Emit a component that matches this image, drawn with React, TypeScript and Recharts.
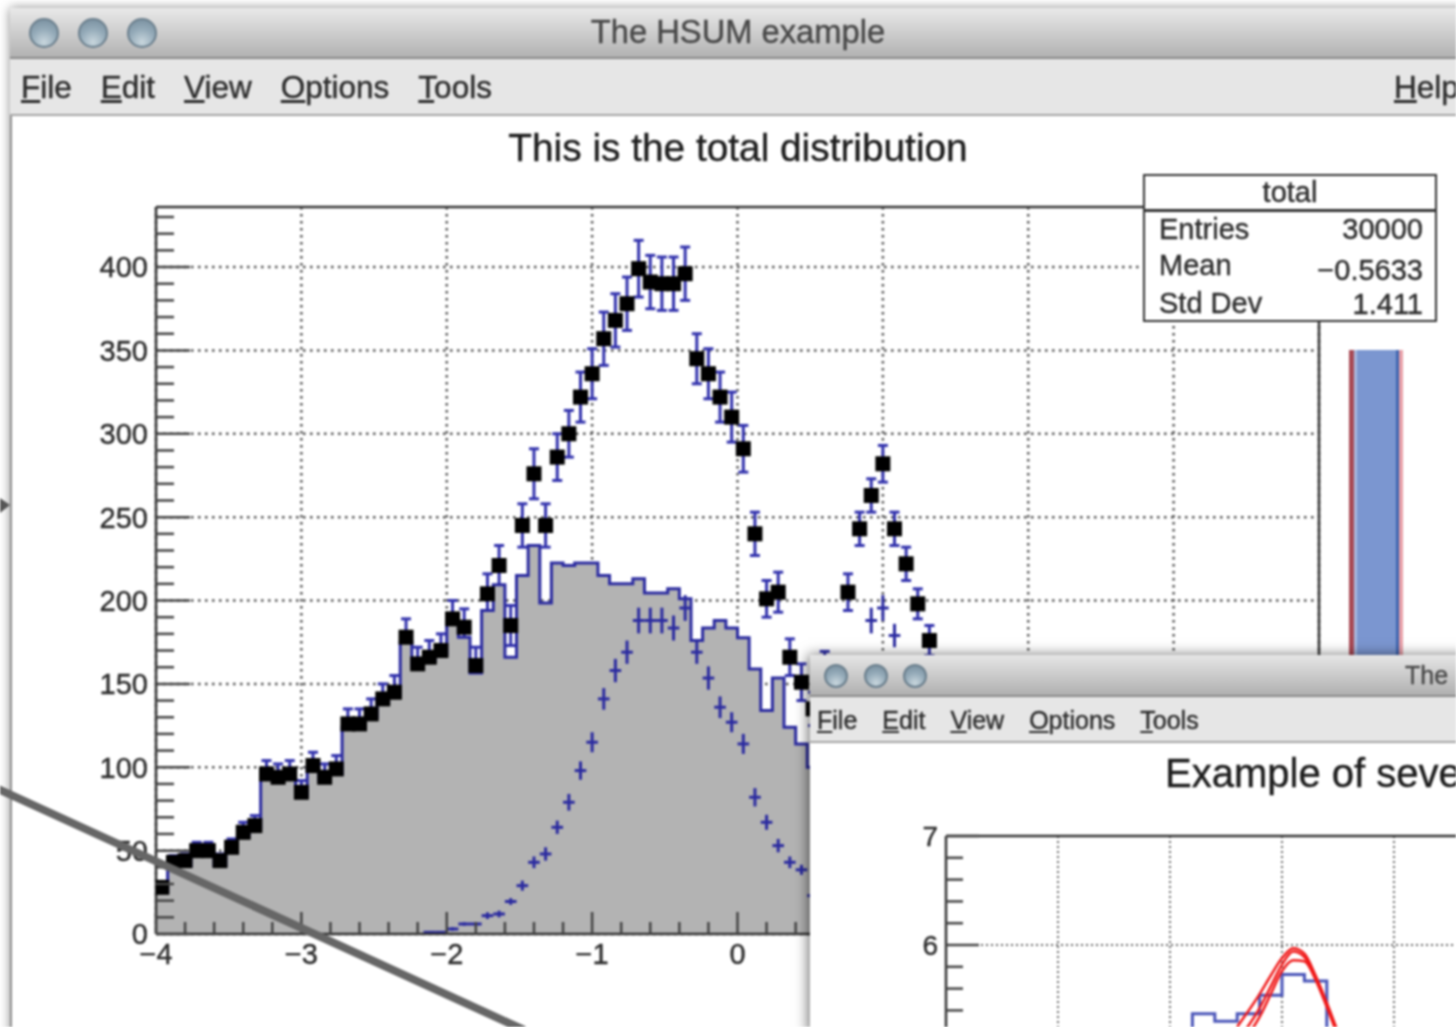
import React from 'react';
import {
  Area,
  CartesianGrid,
  ComposedChart,
  ErrorBar,
  Line,
  ReferenceLine,
  Scatter,
  XAxis,
  YAxis,
} from 'recharts';

// bin edges of the main histogram (only the part that shows before the second window)
const binEdges = [
  -4, -3.92, -3.84, -3.76, -3.68, -3.6, -3.52, -3.44, -3.36, -3.28, -3.2, -3.12, -3.04, -2.96, -2.88, -2.8, -2.72,
  -2.64, -2.56, -2.48, -2.4, -2.32, -2.24, -2.16, -2.08, -2, -1.92, -1.84, -1.76, -1.68, -1.6, -1.52, -1.44, -1.36,
  -1.28, -1.2, -1.12, -1.04, -0.96, -0.88, -0.8, -0.72, -0.64, -0.56, -0.48, -0.4, -0.32, -0.24, -0.16, -0.08, 0,
  0.08, 0.16, 0.24, 0.32, 0.4, 0.48, 0.56, 0.64, 0.72, 0.8, 0.88, 0.96, 1.04, 1.12, 1.2, 1.28, 1.36,
];
const grayValues = [
  25, 40, 41, 47, 47, 41, 50, 59, 63.5, 94, 93, 94, 83, 99.6, 92, 96, 124, 124, 130, 139, 143, 175, 160, 164, 168,
  186.5, 178, 156.5, 194, 209.5, 166, 215, 233, 198.5, 222.5, 221, 222.5, 222.5, 215, 210, 210, 213, 204.5, 204.5,
  207, 201, 176, 183.5, 188, 183.5, 177.7, 159, 134, 153.5, 124, 114, 100, 90, 100, 110, 105, 90, 95, 80, 70, 60, 50,
];
const totalValues = [
  28, 43, 44, 50, 50, 44, 52, 61, 65, 96, 94, 96, 85, 101, 94, 99, 126, 126, 132, 141, 145, 178, 162, 166, 170, 189,
  184, 161, 204, 221, 185, 245, 276, 245, 286, 300, 322, 336, 357, 368, 378, 399, 391, 390, 390, 396, 345, 336, 322,
  310, 291, 240, 201, 205, 166, 151, 135, 157, 150, 205, 243, 263, 282, 243, 222, 198, 176,
];
const totalErrors = [
  3, 4, 4, 5, 5, 4, 5, 6, 6, 8, 8, 8, 7, 8, 8, 8, 9, 9, 9, 9, 10, 11, 10, 10, 10, 11, 11, 11, 12, 12, 12, 13, 15, 13,
  14, 14, 15, 15, 16, 16, 16, 17, 16, 16, 16, 16, 15, 15, 15, 15, 14, 13, 11, 12, 11, 11, 10, 12.5, 10, 11, 10, 10,
  11, 10, 10, 9, 9,
];
const crossValues = [
  null, null, null, null, null, null, null, null, null, null, null, null, null, null, null, null, null, null, null,
  null, null, null, null, 1, 1, 3, 6, 6, 11, 12, 19.5, 29, 43, 48, 64, 79, 98, 115, 141, 158, 169, 188, 188, 188,
  183.5, 195.5, 169, 153.5, 136, 127, 114, 82, 67, 53, 43, 38.5, 23, null, null, 120, 150, 188, 195.5, 179, 150, 120,
  100,
];
const crossErrors = [
  0, 0, 0, 0, 0, 0, 0, 0, 0, 0, 0, 0, 0, 0, 0, 0, 0, 0, 0, 0, 0, 0, 0, 0.5, 0.5, 1, 1, 1, 2, 2, 2, 3, 3.5, 4, 4, 5,
  5.5, 6, 6.5, 7, 7, 7.7, 7.7, 7.7, 7.5, 7.7, 7, 7, 6.5, 6, 6, 5.5, 4.5, 4, 3.5, 3, 2.5, 0, 0, 6, 7, 7.7, 7.7, 7, 7,
  6, 6,
];

const majorY = [0, 50, 100, 150, 200, 250, 300, 350, 400];
const minorY = [
  10, 20, 30, 40, 60, 70, 80, 90, 110, 120, 130, 140, 160, 170, 180, 190, 210, 220, 230, 240, 260, 270, 280, 290, 310,
  320, 330, 340, 360, 370, 380, 390, 410, 420, 430,
];
const majorX = [-4, -3, -2, -1, 0, 1, 2, 3, 4];
const minorX = [
  -3.8, -3.6, -3.4, -3.2, -2.8, -2.6, -2.4, -2.2, -1.8, -1.6, -1.4, -1.2, -0.8, -0.6, -0.4, -0.2, 0.2, 0.4, 0.6, 0.8,
  1.2, 1.4, 1.6, 1.8, 2.2, 2.4, 2.6, 2.8, 3.2, 3.4, 3.6, 3.8,
];

// second window, fit example
const fitEdges = [2, 2.2, 2.4, 2.6, 2.8, 3, 3.2, 3.4];
const fitHist = [4.6, 5.37, 5.3, 5.37, 5.54, 5.73, 5.67, 4.5];
const fitX = [2.6, 2.8, 2.9, 3, 3.1, 3.2, 3.3, 3.4, 3.5];
const fitCurveA = [5.25, 5.55, 5.72, 5.88, 5.97, 5.92, 5.72, 5.47, 5.2];
const fitCurveB = [5.12, 5.42, 5.62, 5.82, 5.94, 5.89, 5.7, 5.45, 5.18];
const fitCurveC = [5.05, 5.34, 5.55, 5.76, 5.86, 5.85, 5.68, 5.43, 5.16];
const fitMajorY = [6, 7];
const fitMinorY = [5.2, 5.4, 5.6, 5.8, 6.2, 6.4, 6.6, 6.8];

const menuItems = ['File', 'Edit', 'View', 'Options', 'Tools'];
const statLabels = ['Entries', 'Mean', 'Std Dev'];
const statValues = ['30000', '\u22120.5633', '1.411'];

const histRows = binEdges.map((x, i) => ({ x, gray: grayValues[Math.min(i, grayValues.length - 1)] }));
const pointRows = totalValues.map((total, i) => ({
  x: binEdges[i] + 0.04,
  total,
  err: totalErrors[i],
  cross: crossValues[i],
  crossErr: crossErrors[i],
  halfBin: 0.04,
}));
const crossRows = pointRows.filter((r) => r.cross !== null);
const fitHistRows = fitEdges.map((x, i) => ({ x, v: fitHist[i] }));
const fitCurveRows = fitX.map((x, i) => ({ x, a: fitCurveA[i], b: fitCurveB[i], c: fitCurveC[i] }));

const FONT = '"Liberation Sans", Arial, sans-serif';
const INK = '#2c2c2c';
const BLUE = '#2b2ba0';

function minus(v: number) {
  return v < 0 ? `\u2212${Math.abs(v)}` : String(v);
}

function YTick({ x, y, payload, major, size, longLen, shortLen }: any) {
  const isMajor = major.includes(payload.value);
  return (
    <g>
      <line x1={x} x2={x + (isMajor ? longLen : shortLen)} y1={y} y2={y} stroke="#444" strokeWidth={2.5} />
      {isMajor && (
        <text
          x={x - 8}
          y={y + size * 0.36}
          textAnchor="end"
          fontSize={size}
          fontFamily={FONT}
          fill={INK}
          stroke={INK}
          strokeWidth={0.4}
        >
          {payload.value}
        </text>
      )}
    </g>
  );
}

function XTick({ x, y, payload }: any) {
  const isMajor = majorX.includes(payload.value);
  return (
    <g>
      <line x1={x} x2={x} y1={y} y2={y - (isMajor ? 22 : 12)} stroke="#444" strokeWidth={2.5} />
      {isMajor && (
        <text
          x={x}
          y={y + 30}
          textAnchor="middle"
          fontSize={29}
          fontFamily={FONT}
          fill={INK}
          stroke={INK}
          strokeWidth={0.4}
        >
          {minus(payload.value)}
        </text>
      )}
    </g>
  );
}

function SquareMark({ cx, cy }: any) {
  return <rect x={cx - 7.5} y={cy - 7.5} width={15} height={15} fill="#000" />;
}

function NoMark() {
  return <g />;
}

function TrafficLight({ x, y, r }: { x: number; y: number; r: number }) {
  return (
    <div
      style={{
        position: 'absolute',
        left: x - r,
        top: y - r,
        width: r * 2,
        height: r * 2,
        borderRadius: '50%',
        boxSizing: 'border-box',
        border: '2px solid #6b7f8d',
        background: 'radial-gradient(circle at 50% 85%, #c8d6dd 0%, #95abb9 50%, #748b9b 100%)',
      }}
    />
  );
}

function Menu({ left, top, size, gap }: { left: number; top: number; size: number; gap: number }) {
  return (
    <div
      style={{
        position: 'absolute',
        left,
        top,
        display: 'flex',
        gap,
        fontFamily: FONT,
        fontSize: size,
        color: INK,
        lineHeight: 1,
        whiteSpace: 'nowrap',
      }}
    >
      {menuItems.map((m) => (
        <span key={m}>
          <u>{m[0]}</u>
          {m.slice(1)}
        </span>
      ))}
    </div>
  );
}

function MainChart() {
  return (
    <div style={{ position: 'absolute', left: 40, top: 187 }}>
      <ComposedChart width={1299} height={787} margin={{ top: 20, right: 20, left: 56, bottom: 0 }}>
        <CartesianGrid
          stroke="#555"
          strokeWidth={2.5}
          strokeDasharray="2.5 4.5"
          horizontalValues={majorY}
          verticalValues={majorX}
        />
        <Scatter data={pointRows} dataKey="total" shape={<NoMark />} isAnimationActive={false}>
          {/* the grey fill hides the lower half of these bars */}
          <ErrorBar
            dataKey="err"
            direction="y"
            width={5}
            stroke="#3232ac"
            strokeWidth={3}
            isAnimationActive={false}
            zIndex={50}
          />
        </Scatter>
        <Area
          data={histRows}
          dataKey="gray"
          type="stepAfter"
          fill="#b3b3b3"
          fillOpacity={1}
          stroke={BLUE}
          strokeWidth={3}
          baseValue={0}
          isAnimationActive={false}
        />
        <XAxis
          dataKey="x"
          type="number"
          domain={[-4, 4]}
          ticks={[...majorX, ...minorX].sort((a, b) => a - b)}
          interval={0}
          height={40}
          tickSize={0}
          tickMargin={0}
          tickLine={false}
          stroke="#333"
          strokeWidth={2.5}
          tick={<XTick />}
          allowDataOverflow
        />
        <YAxis
          type="number"
          domain={[0, 436]}
          ticks={[...majorY, ...minorY].sort((a, b) => a - b)}
          interval={0}
          width={60}
          tickSize={0}
          tickMargin={0}
          tickLine={false}
          stroke="#333"
          strokeWidth={2.5}
          tick={<YTick major={majorY} size={29} longLen={34} shortLen={18} />}
          allowDataOverflow
        />
        <ReferenceLine y={436} stroke="#333" strokeWidth={2.5} />
        <ReferenceLine x={4} stroke="#333" strokeWidth={2.5} />
        <Scatter data={crossRows} dataKey="cross" shape={<NoMark />} isAnimationActive={false}>
          <ErrorBar dataKey="crossErr" direction="y" width={0} stroke={BLUE} strokeWidth={3} isAnimationActive={false} />
          <ErrorBar dataKey="halfBin" direction="x" width={0} stroke={BLUE} strokeWidth={3} isAnimationActive={false} />
        </Scatter>
        <Scatter data={pointRows} dataKey="total" shape={<SquareMark />} isAnimationActive={false} />
      </ComposedChart>
    </div>
  );
}

function FitChart() {
  return (
    <div style={{ position: 'absolute', left: 890, top: 816 }}>
      <ComposedChart width={748} height={347} margin={{ top: 20, right: 20, left: 0, bottom: 0 }}>
        <CartesianGrid
          stroke="#666"
          strokeWidth={2}
          strokeDasharray="2 3"
          horizontalValues={[6]}
          verticalValues={[1, 2, 3, 4, 5]}
        />
        <XAxis dataKey="x" type="number" domain={[0, 6]} height={0} hide allowDataOverflow />
        <YAxis
          type="number"
          domain={[4, 7]}
          ticks={[...fitMajorY, ...fitMinorY].sort((a, b) => a - b)}
          interval={0}
          width={56}
          tickSize={0}
          tickMargin={0}
          tickLine={false}
          stroke="#333"
          strokeWidth={2.5}
          tick={<YTick major={fitMajorY} size={28} longLen={33} shortLen={17} />}
          allowDataOverflow
        />
        <ReferenceLine y={7} stroke="#333" strokeWidth={2.5} />
        <Line
          data={fitHistRows}
          dataKey="v"
          type="stepAfter"
          stroke="#4a55b8"
          strokeWidth={3}
          dot={false}
          isAnimationActive={false}
        />
        <Line data={fitCurveRows} dataKey="a" type="monotone" stroke="#f01a1a" strokeWidth={2.5} dot={false} isAnimationActive={false} />
        <Line data={fitCurveRows} dataKey="b" type="monotone" stroke="#f01a1a" strokeWidth={2.5} dot={false} isAnimationActive={false} />
        <Line data={fitCurveRows} dataKey="c" type="monotone" stroke="#f01a1a" strokeWidth={2.5} dot={false} isAnimationActive={false} />
      </ComposedChart>
    </div>
  );
}

function StatsBox() {
  const text: React.CSSProperties = { position: 'absolute', fontSize: 29, lineHeight: 1, whiteSpace: 'nowrap' };
  return (
    <div
      style={{
        position: 'absolute',
        left: 1143,
        top: 174,
        width: 294,
        height: 148,
        boxSizing: 'border-box',
        border: '2.5px solid #333',
        background: '#fff',
        fontFamily: FONT,
        color: INK,
      }}
    >
      <div style={{ ...text, left: 0, right: 0, top: 2, textAlign: 'center' }}>total</div>
      <div style={{ position: 'absolute', left: 0, right: 0, top: 33, height: 2.5, background: '#333' }} />
      {statLabels.map((label, i) => (
        <div key={label} style={{ ...text, left: 14, top: [39, 75, 113][i] }}>
          {label}
        </div>
      ))}
      {statValues.map((value, i) => (
        <div key={value} style={{ ...text, right: 12, top: [39, 80, 114][i] }}>
          {value}
        </div>
      ))}
    </div>
  );
}

export default function App() {
  return (
    <div
      style={{
        position: 'fixed',
        left: 0,
        top: 0,
        width: 1456,
        height: 1027,
        overflow: 'hidden',
        background: '#fff',
        filter: 'blur(0.9px)',
        WebkitTextStroke: '0.4px currentColor',
      }}
    >
      {/* main window */}
      <div
        style={{
          position: 'absolute',
          left: 10,
          top: 8,
          width: 1460,
          height: 1040,
          background: '#fff',
          boxShadow: '0 0 10px rgba(0,0,0,0.45)',
        }}
      />
      <div
        style={{
          position: 'absolute',
          left: 10,
          top: 8,
          width: 1446,
          height: 49,
          background: 'linear-gradient(#e9e9e9, #b2b2b2)',
          borderBottom: '2px solid #8a8a8a',
        }}
      />
      <div
        style={{
          position: 'absolute',
          left: 10,
          top: 59,
          width: 1446,
          height: 55,
          background: '#e6e6e6',
          borderBottom: '2px solid #a5a5a5',
        }}
      />
      <div style={{ position: 'absolute', left: 10, top: 116, width: 2, height: 911, background: '#8f8f8f' }} />
      <TrafficLight x={44} y={33} r={15} />
      <TrafficLight x={93} y={33} r={15} />
      <TrafficLight x={142} y={33} r={15} />
      <div style={{ position: 'absolute', left: 0, width: 1476, top: 16, textAlign: 'center', fontFamily: FONT, fontSize: 32.7, lineHeight: 1, color: '#484848' }}>
        The HSUM example
      </div>
      <Menu left={21} top={72} size={31.5} gap={29} />
      <div style={{ position: 'absolute', left: 1394, top: 72, fontFamily: FONT, fontSize: 31.5, lineHeight: 1, color: INK }}>
        <u>H</u>elp
      </div>
      <div style={{ position: 'absolute', left: 0, width: 1476, top: 129, textAlign: 'center', fontFamily: FONT, fontSize: 38.8, lineHeight: 1, color: '#1c1c1c' }}>
        This is the total distribution
      </div>

      <MainChart />
      <StatsBox />

      {/* colour strip right of the frame */}
      <div
        style={{
          position: 'absolute',
          left: 1349,
          top: 350,
          width: 54,
          height: 320,
          background:
            'linear-gradient(90deg, #a84a55 0 5px, #a9b9de 5px 8px, #7b96d0 8px 47px, #3f66b0 47px 50px, #e8a0a8 50px 54px)',
        }}
      />

      {/* second window */}
      <div
        style={{
          position: 'absolute',
          left: 810,
          top: 655,
          width: 660,
          height: 380,
          background: '#fff',
          boxShadow: '-2px 0 12px rgba(0,0,0,0.55)',
        }}
      />
      <div
        style={{
          position: 'absolute',
          left: 810,
          top: 655,
          width: 646,
          height: 40,
          background: 'linear-gradient(#e6e6e6, #b0b0b0)',
          borderBottom: '2px solid #8a8a8a',
        }}
      />
      <div
        style={{
          position: 'absolute',
          left: 810,
          top: 697,
          width: 646,
          height: 44,
          background: '#e6e6e6',
          borderBottom: '2px solid #a5a5a5',
        }}
      />
      <TrafficLight x={836} y={676} r={12} />
      <TrafficLight x={876} y={676} r={12} />
      <TrafficLight x={915} y={676} r={12} />
      <div style={{ position: 'absolute', left: 1405, top: 663, fontFamily: FONT, fontSize: 25, lineHeight: 1, color: '#484848' }}>
        The
      </div>
      <Menu left={817} top={708} size={25} gap={25} />
      <div style={{ position: 'absolute', left: 1165, top: 753, fontFamily: FONT, fontSize: 40, lineHeight: 1, color: '#1c1c1c', whiteSpace: 'nowrap' }}>
        Example of seve
      </div>
      <FitChart />

      {/* annotation lines over the screenshot */}
      <svg style={{ position: 'absolute', left: 0, top: 0 }} width={1456} height={1027}>
        <line x1={-4} y1={788} x2={524} y2={1030} stroke="#666" strokeWidth={8} />
        <polygon points="0,498 10,505 0,513" fill="#555" />
      </svg>
    </div>
  );
}
